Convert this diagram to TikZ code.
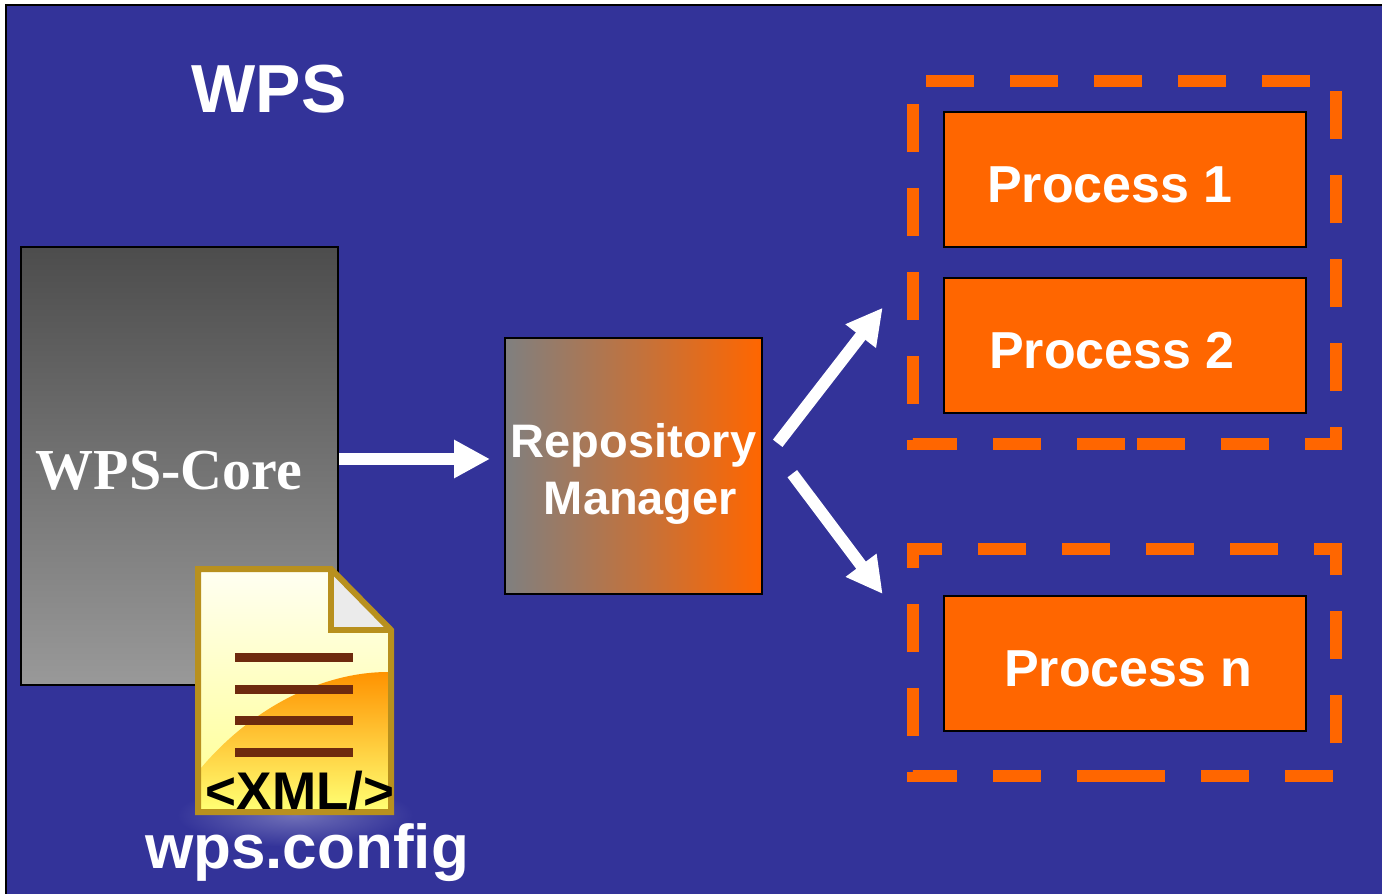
\documentclass[tikz,border=0pt]{standalone}
\usepackage{fontspec}
\setmainfont{Liberation Sans}
\newfontfamily\corefont{Liberation Serif}
\usetikzlibrary{arrows.meta}
\definecolor{wpsblue}{HTML}{333399}
\definecolor{wpsorange}{HTML}{FF6600}
\definecolor{docgold}{HTML}{B8901E}
\definecolor{docline}{HTML}{6E2A0E}

\begin{document}
\begin{tikzpicture}[x=1pt,y=-1pt]

\tikzset{process/.style = {shape=rectangle,draw=black,line width=2pt,fill=wpsorange,minimum width=362pt,minimum height=135pt,inner sep=0pt}}
\tikzset{label/.style = {text=white,anchor=base,inner sep=0pt,font=\bfseries\fontsize{#1}{#1}\selectfont}}
\tikzset{group/.style = {draw=wpsorange,line width=12pt,dash pattern=on 48pt off 36pt,miter limit=10}}
\tikzset{flow/.style = {draw=white,line width=12pt,-{Triangle[length=36pt,width=36pt]}}}
\tikzset{docrule/.style = {draw=docline,line width=9pt}}

\useasboundingbox (0,0) rectangle (1382,894);
\clip (0,0) rectangle (1382,894);
\fill[white] (0,0) rectangle (1382,894);
\draw[fill=wpsblue,draw=black,line width=2pt] (6,5) rectangle (1392,904);

\node[label=68] (title) at (269,112) {WPS};

\node[shape=rectangle,draw=black,line width=2pt,top color=black!70,bottom color=black!40,minimum width=317pt,minimum height=438pt,inner sep=0pt] (core) at (179.5,466) {};
\node[text=white,anchor=base,inner sep=0pt,font=\corefont\bfseries\fontsize{58}{58}\selectfont] (corelabel) at (169,489) {WPS-Core};

\node[shape=rectangle,draw=black,line width=2pt,left color=black!50,right color=wpsorange,minimum width=257pt,minimum height=256pt,inner sep=0pt] (repo) at (633.5,466) {};
\node[label=47] (repolabel) at (633.5,457) {Repository};
\node[label=47] (managerlabel) at (640.5,514) {Manager};

\node[process] (p1) at (1124.5,179) {};
\node[process] (p2) at (1124.5,345) {};
\node[process] (pn) at (1124.5,663) {};
\node[label=52] (p1label) at (1110,202) {Process 1};
\node[label=52] (p2label) at (1112,368) {Process 2};
\node[label=52] (pnlabel) at (1128.5,686) {Process n};

\draw[group,dash phase=72pt] (1137,444) -- (913,444) -- (913,81) -- (1336,81) -- (1336,444) -- cycle;
\draw[group] (1125,776) -- (913,776) -- (913,549) -- (1336,549) -- (1336,776) -- cycle;

\coordinate (corestart) at (core.east |- 0,459);
\coordinate (coreend) at (490,459);
\coordinate (upstart) at (777.7,443.3);
\coordinate (upend) at (882.7,307.7);
\coordinate (downstart) at (792.3,473.7);
\coordinate (downend) at (882.7,594);
\draw[flow] (corestart) -- (coreend);
\draw[flow] (upstart) -- (upend);
\draw[flow] (downstart) -- (downend);

\shade[inner color=white!30!wpsblue,outer color=wpsblue] (295,815) ellipse [x radius=118,y radius=32];

\shade[top color=white!95!yellow,bottom color=yellow!45!white] (198,569) -- (331,569) -- (391,630) -- (391,812) -- (198,812) -- cycle;
\shade[top color=orange!85!yellow,bottom color=yellow!55!white] (201,768) .. controls (250,710) and (320,672) .. (388,672) -- (388,809) -- (201,809) -- cycle;
\fill[black!8] (331,569) -- (391,630) -- (331,630) -- cycle;
\draw[docgold,line width=6pt,line join=miter] (198,569) -- (331,569) -- (391,630) -- (391,812) -- (198,812) -- cycle;
\draw[docgold,line width=6pt] (331,569) -- (331,630) -- (391,630);

\draw[docrule] (235,657) -- (353,657);
\draw[docrule] (235,689) -- (353,689);
\draw[docrule] (235,720) -- (353,720);
\draw[docrule] (235,752) -- (353,752);

\node[label=53,text=black] (xml) at (300,809) {<XML/>};
\node[label=62] (config) at (307,868) {wps.config};

\end{tikzpicture}
\end{document}
